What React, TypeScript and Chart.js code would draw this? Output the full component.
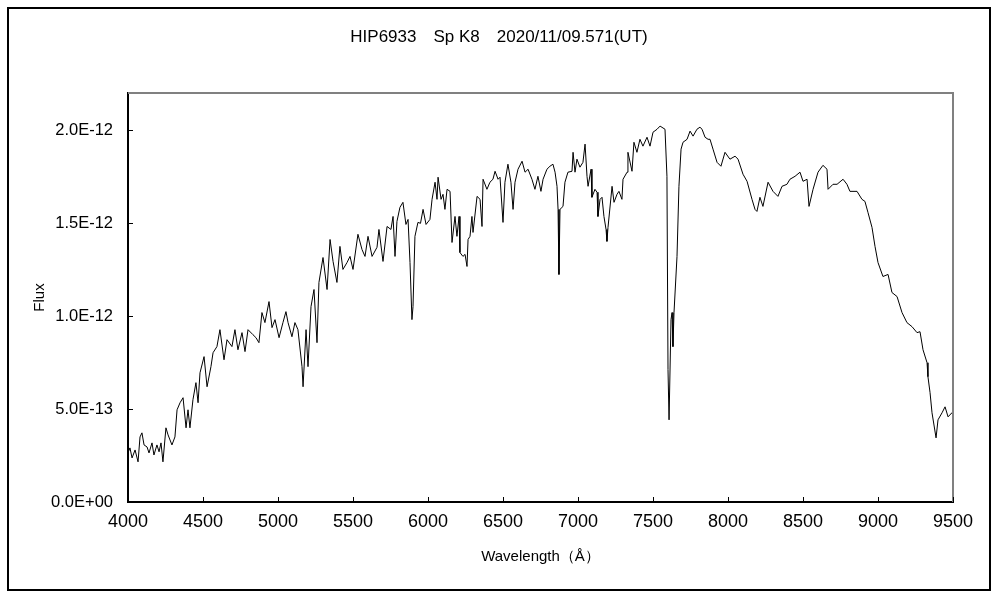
import React, { useEffect, useRef } from "react";
import { Chart, registerables } from "chart.js";

Chart.register(...registerables);

const titleText = "HIP6933\u3000Sp K8\u30002020/11/09.571(UT)";
const xTitle = "Wavelength\uFF08\u00C5\uFF09";
const yTitle = "Flux";

const yTickValues = [0, 0.5, 1, 1.5, 2];
const yTickLabels = ["0.0E+00", "5.0E-13", "1.0E-12", "1.5E-12", "2.0E-12"];

// wavelength in Å
const wavelength = [
  4000, 4013, 4027, 4047, 4067, 4080, 4093, 4107, 4127, 4140, 4160, 4173, 4193, 4207, 4220, 4233,
  4253, 4267, 4293, 4313, 4327, 4347, 4367, 4387,
  4400, 4413, 4433, 4453, 4467, 4480, 4507, 4527, 4553, 4567, 4593, 4613, 4640, 4660, 4693, 4713,
  4733, 4760, 4780, 4800, 4833, 4853, 4873, 4893, 4913, 4940, 4960, 4980, 5007, 5033, 5053, 5067,
  5093, 5113, 5133, 5160, 5167, 5187, 5200, 5220, 5240, 5260, 5273, 5300, 5327, 5347, 5367, 5393,
  5413, 5433, 5460, 5480, 5500, 5533, 5560, 5580, 5600, 5627, 5660, 5673, 5700, 5727, 5753, 5767,
  5780, 5793, 5813, 5833, 5853, 5867, 5880, 5893, 5900, 5913, 5933, 5950, 5967, 5987, 6013, 6027,
  6047, 6060, 6067, 6087, 6100, 6113, 6127, 6147, 6160, 6180, 6193, 6207, 6213, 6233, 6247, 6260,
  6267, 6280, 6293, 6300, 6327, 6347, 6360, 6367, 6393, 6413, 6433, 6447, 6467, 6480, 6500, 6513,
  6533, 6553, 6567, 6580, 6600, 6627, 6647, 6667, 6693, 6713, 6733, 6753, 6767, 6793, 6813, 6833,
  6847, 6860, 6867, 6873, 6880, 6900, 6913, 6933, 6960, 6967, 6980, 6993, 7013, 7033, 7047, 7060,
  7067, 7087, 7093, 7113, 7127, 7133, 7147, 7160, 7173, 7187, 7193, 7200, 7227, 7240, 7260, 7273,
  7293, 7300, 7327, 7333, 7360, 7373, 7393, 7413, 7433, 7460, 7480, 7500, 7527, 7547, 7580, 7593,
  7600, 7607, 7620, 7627, 7633, 7640, 7660, 7673, 7687, 7700, 7727, 7747, 7767, 7793, 7813, 7827,
  7847, 7867, 7880, 7900, 7927, 7953, 7980, 8013, 8047, 8067, 8100, 8127, 8160, 8180, 8193, 8213,
  8233, 8267, 8300, 8333, 8360, 8393, 8413, 8447, 8480, 8500, 8527, 8540, 8567, 8600, 8633, 8660,
  8667, 8700, 8727, 8767, 8793, 8813, 8860, 8893, 8913, 8933, 8960, 8980, 9000, 9033, 9067, 9093,
  9127, 9160, 9193, 9227, 9260, 9280, 9300, 9327, 9333, 9347, 9360, 9387, 9400, 9427, 9447, 9467,
  9493, 9500,
];

// flux in units of 1E-12
const fluxE12 = [
  0.264, 0.291, 0.237, 0.280, 0.216, 0.350, 0.372, 0.307, 0.296, 0.264, 0.318, 0.253, 0.307, 0.270, 0.318, 0.216,
  0.399, 0.361, 0.307, 0.350, 0.496, 0.534, 0.561, 0.399,
  0.496, 0.399, 0.550, 0.642, 0.534, 0.695, 0.782, 0.620, 0.728, 0.803, 0.836, 0.927, 0.765, 0.873, 0.836, 0.927,
  0.819, 0.911, 0.809, 0.927, 0.900, 0.884, 0.857, 1.019, 0.965, 1.078, 0.938, 0.981, 0.884, 0.965, 1.024, 0.965,
  0.889, 0.965, 0.927, 0.728, 0.620, 0.927, 0.728, 1.051, 1.143, 0.857, 1.181, 1.315, 1.143, 1.412, 1.294, 1.181,
  1.375, 1.251, 1.288, 1.321, 1.251, 1.440, 1.358, 1.321, 1.429, 1.321, 1.370, 1.466, 1.294, 1.482, 1.466, 1.536,
  1.321, 1.509, 1.585, 1.612, 1.493, 1.520, 1.288, 0.981, 1.051, 1.429, 1.504, 1.499, 1.574, 1.493, 1.520, 1.628,
  1.720, 1.628, 1.747, 1.628, 1.655, 1.574, 1.682, 1.671, 1.396, 1.536, 1.429, 1.536, 1.342, 1.321, 1.332, 1.267,
  1.412, 1.429, 1.536, 1.450, 1.644, 1.628, 1.482, 1.736, 1.682, 1.720, 1.736, 1.779, 1.736, 1.747, 1.504, 1.720,
  1.817, 1.720, 1.574, 1.720, 1.790, 1.833, 1.774, 1.790, 1.736, 1.682, 1.752, 1.671, 1.736, 1.790, 1.806, 1.817,
  1.774, 1.698, 1.574, 1.224, 1.574, 1.590, 1.720, 1.774, 1.779, 1.881, 1.774, 1.844, 1.801, 1.827, 1.925, 1.752,
  1.698, 1.790, 1.639, 1.682, 1.666, 1.536, 1.628, 1.639, 1.536, 1.466, 1.402, 1.477, 1.698, 1.612, 1.655, 1.671,
  1.628, 1.736, 1.774, 1.881, 1.779, 1.935, 1.881, 1.951, 1.914, 1.962, 1.914, 1.989, 2.005, 2.022, 2.005, 1.752,
  0.712, 0.442, 0.981, 1.019, 0.836, 1.019, 1.321, 1.698, 1.898, 1.935, 1.951, 1.995, 1.968, 2.005, 2.016, 2.005,
  1.962, 1.951, 1.951, 1.898, 1.827, 1.806, 1.881, 1.844, 1.860, 1.844, 1.763, 1.725, 1.628, 1.574, 1.563, 1.639,
  1.590, 1.720, 1.671, 1.644, 1.698, 1.709, 1.736, 1.752, 1.774, 1.725, 1.736, 1.590, 1.682, 1.774, 1.811, 1.790,
  1.682, 1.709, 1.709, 1.736, 1.709, 1.671, 1.671, 1.628, 1.617, 1.558, 1.477, 1.375, 1.288, 1.213, 1.224, 1.127,
  1.105, 1.019, 0.965, 0.943, 0.911, 0.916, 0.819, 0.749, 0.674, 0.588, 0.480, 0.345, 0.442, 0.480, 0.512, 0.458,
  0.480, 0.469,
];

const FONT = "'Liberation Sans', Arial, sans-serif";

export default function App() {
  const ref = useRef<HTMLCanvasElement>(null);

  useEffect(() => {
    if (!ref.current) return;
    const framePlugin = {
      id: "framePlugin",
      afterDatasetsDraw(chart: any) {
        const { ctx, chartArea: a, scales } = chart;
        ctx.save();
        ctx.strokeStyle = "#808080";
        ctx.lineWidth = 2;
        ctx.beginPath();
        ctx.moveTo(a.left, a.top);
        ctx.lineTo(a.right, a.top);
        ctx.lineTo(a.right, a.bottom);
        ctx.stroke();
        ctx.strokeStyle = "#000";
        ctx.lineWidth = 1;
        ctx.beginPath();
        scales.y.ticks.forEach((t: any) => {
          const py = Math.round(scales.y.getPixelForValue(t.value)) + 0.5;
          ctx.moveTo(a.left, py);
          ctx.lineTo(a.left + 5, py);
        });
        scales.x.ticks.forEach((t: any) => {
          const px = Math.round(scales.x.getPixelForValue(t.value)) + 0.5;
          ctx.moveTo(px, a.bottom);
          ctx.lineTo(px, a.bottom - 5);
        });
        ctx.stroke();
        ctx.restore();
      },
    };

    const chart = new Chart(ref.current, {
      type: "line",
      data: {
        datasets: [
          {
            data: wavelength.map((w, i) => ({ x: w, y: fluxE12[i] })),
            borderColor: "#000",
            borderWidth: 1,
            pointRadius: 0,
            tension: 0,
            fill: false,
            xAxisID: "x",
            yAxisID: "y",
          },
        ],
      },
      options: {
        responsive: false,
        animation: false,
        devicePixelRatio: 1,
        layout: { padding: { left: 0, top: 0, right: 0, bottom: 0 } },
        plugins: {
          legend: { display: false },
          tooltip: { enabled: false },
          title: {
            display: true,
            text: titleText,
            color: "#000",
            font: { family: FONT, size: 17, weight: "normal", lineHeight: 1.2 },
            padding: { top: 18, bottom: 45.6 },
          },
        },
        scales: {
          x: {
            type: "linear",
            min: 4000,
            max: 9500,
            afterFit: (s: any) => {
              s.height = 87;
            },
            grid: { display: false, drawTicks: false },
            border: { display: true, color: "#000", width: 2 },
            ticks: {
              stepSize: 500,
              color: "#000",
              padding: 9,
              maxRotation: 0,
              autoSkip: false,
              font: { family: FONT, size: 18 },
              callback: (v: any) => String(v),
            },
            title: {
              display: true,
              text: xTitle,
              color: "#000",
              font: { family: FONT, size: 15 },
              padding: { top: 0, bottom: 23 },
            },
          },
          y: {
            type: "linear",
            position: "left",
            min: 0,
            max: 2.2,
            afterFit: (s: any) => {
              s.width = 119;
            },
            grid: { display: false, drawTicks: false },
            border: { display: true, color: "#000", width: 2 },
            ticks: {
              stepSize: 0.5,
              includeBounds: false,
              color: "#000",
              padding: 15,
              font: { family: FONT, size: 16.5 },
              callback: (v: any) => {
                const i = yTickValues.indexOf(Number(v));
                return i >= 0 ? yTickLabels[i] : "";
              },
            },
            title: {
              display: true,
              text: yTitle,
              color: "#000",
              font: { family: FONT, size: 15 },
              padding: { top: 22, bottom: 0 },
            },
          },
          yRight: {
            type: "linear",
            position: "right",
            min: 0,
            max: 2.2,
            afterFit: (s: any) => {
              s.width = 36;
            },
            grid: { display: false, drawTicks: false },
            border: { display: false },
            ticks: { display: false },
          },
        },
      },
      plugins: [framePlugin],
    } as any);
    return () => chart.destroy();
  }, []);

  return (
    <div
      style={{
        position: "absolute",
        left: 7,
        top: 7,
        width: 980,
        height: 580,
        border: "2px solid #000",
        background: "#fff",
      }}
    >
      <canvas ref={ref} width={980} height={580} style={{ display: "block" }} />
    </div>
  );
}
